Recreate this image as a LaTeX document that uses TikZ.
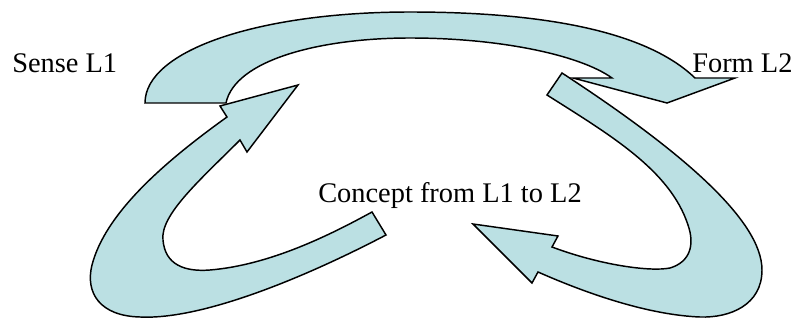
\documentclass[tikz,border=0pt]{standalone}
\usepackage{fontspec}
\setmainfont{Liberation Serif}
\usepackage{tikz}
\usepackage{xcolor}
\definecolor{paleblue}{RGB}{187,224,227}
\tikzstyle{blockarrow} = [draw=black, fill=paleblue, line width=1.1pt, line join=miter]
\tikzstyle{label} = [anchor=base west, inner sep=0pt, font=\fontsize{21.3}{25}\selectfont]

\begin{document}
\begin{tikzpicture}[x=0.75pt, y=-0.75pt]

\useasboundingbox (0,0) rectangle (794,320);

% top arrow, Sense L1 to Form L2
\filldraw[blockarrow] (145,103) -- (226,103)
  .. controls (235,60) and (320,38) .. (410,38)
  .. controls (500,38) and (580,55) .. (612,78)
  -- (573,78) -- (667,103) -- (735,78) -- (695,78)
  .. controls (640,25) and (520,12) .. (410,12)
  .. controls (260,12) and (145,50) .. (145,103) -- cycle;

% right arrow, Form L2 down to the concept
\filldraw[blockarrow] (547,95) -- (562,73)
  .. controls (680,150) and (762,220) .. (762,270)
  .. controls (762,305) and (730,318) .. (700,317)
  .. controls (650,315) and (590,295) .. (538,272)
  -- (532,283) -- (473,224) -- (558,236) -- (552,247)
  .. controls (600,265) and (650,272) .. (670,268)
  .. controls (690,262) and (695,245) .. (688,225)
  .. controls (670,170) and (610,135) .. (547,95) -- cycle;

% left arrow, the concept back up to Sense L1
\filldraw[blockarrow] (372,212) -- (386,235)
  .. controls (300,280) and (200,320) .. (140,317)
  .. controls (100,316) and (85,293) .. (92,265)
  .. controls (105,215) and (160,165) .. (227,117)
  -- (220,106) -- (298,85) -- (247,152) -- (240,140)
  .. controls (200,180) and (160,215) .. (163,240)
  .. controls (165,265) and (185,272) .. (210,270)
  .. controls (270,265) and (330,235) .. (372,212) -- cycle;

\node (sense) [label] at (12,73) {Sense L1};
\node (form) [label] at (692,73) {Form L2};
\node (concept) [label] at (318,203) {Concept from L1 to L2};

\end{tikzpicture}
\end{document}
